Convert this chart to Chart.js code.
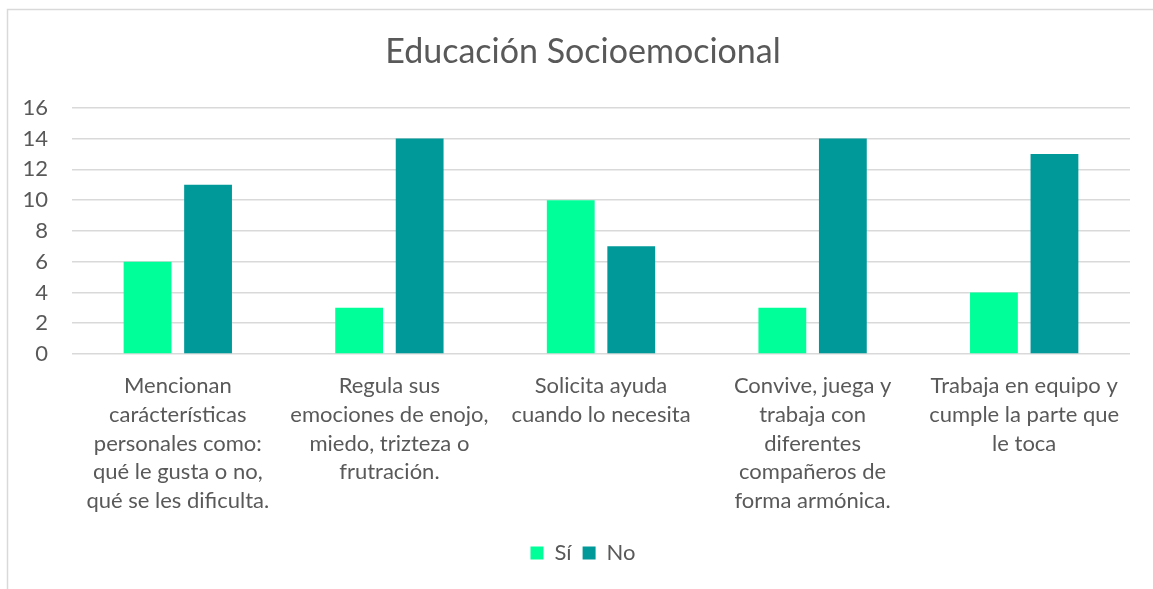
<!DOCTYPE html>
<html>
<head>
<meta charset="utf-8">
<script src="https://cdn.jsdelivr.net/npm/chart.js@4.4.1/dist/chart.umd.min.js"></script>
<style>
html,body{margin:0;padding:0;background:#fff;}
#wrap{position:absolute;left:0;top:0;width:1153px;height:589px;}
</style>
</head>
<body>
<div id="wrap"><canvas id="c" width="1153" height="589"></canvas></div>
<script>
const categories = [
  ["Mencionan", "carácterísticas", "personales como:", "qué le gusta o no,", "qué se les dificulta."],
  ["Regula sus", "emociones de enojo,", "miedo, trizteza o", "frutración."],
  ["Solicita ayuda", "cuando lo necesita"],
  ["Convive, juega y", "trabaja con", "diferentes", "compañeros de", "forma armónica."],
  ["Trabaja en equipo y", "cumple la parte que", "le toca"]
];
const siValues = [6, 3, 10, 3, 4];
const noValues = [11, 14, 7, 14, 13];
const seriesNames = ["Sí", "No"];
const titleText = "Educación Socioemocional";

const FONT = "Lato, 'Open Sans', sans-serif";
const TXT = "#595959";

const borderPlugin = {
  id: "outerBorder",
  beforeDraw(chart) {
    const ctx = chart.ctx;
    ctx.save();
    ctx.fillStyle = "#fff";
    ctx.fillRect(0, 0, chart.width, chart.height);
    ctx.strokeStyle = "#d9d9d9";
    ctx.lineWidth = 1.5;
    ctx.strokeRect(7.5, 9.5, 2000, 2000);
    ctx.restore();
  }
};

new Chart(document.getElementById("c"), {
  type: "bar",
  data: {
    labels: categories,
    datasets: [
      { label: seriesNames[0], data: siValues, backgroundColor: "#00FF99", barPercentage: 0.79, categoryPercentage: 0.572 },
      { label: seriesNames[1], data: noValues, backgroundColor: "#009999", barPercentage: 0.79, categoryPercentage: 0.572 }
    ]
  },
  options: {
    responsive: false,
    animation: false,
    devicePixelRatio: 1,
    layout: { padding: { left: 20, right: 7, top: 10, bottom: 15 } },
    plugins: {
      title: {
        display: true,
        text: titleText,
        color: TXT,
        font: { family: FONT, size: 34, weight: "normal" },
        padding: { top: 22, bottom: 35 }
      },
      legend: {
        position: "bottom",
        labels: {
          color: TXT,
          font: { family: FONT, size: 22 },
          boxWidth: 13,
          boxHeight: 13,
          padding: 11
        }
      },
      tooltip: { enabled: false }
    },
    scales: {
      x: {
        grid: { display: false, drawTicks: false },
        border: { display: false },
        ticks: {
          color: TXT,
          font: { family: FONT, size: 22, lineHeight: 1.3 },
          padding: 18,
          maxRotation: 0,
          autoSkip: false
        },
        afterFit(scale) { scale.height = 177; }
      },
      y: {
        min: 0,
        max: 16,
        grid: { color: "#d9d9d9", lineWidth: 1.5, drawTicks: false },
        border: { display: false },
        ticks: {
          stepSize: 2,
          color: TXT,
          font: { family: FONT, size: 22 },
          padding: 24
        },
        afterFit(scale) { scale.width = 52; }
      },
      yRight: {
        type: "linear",
        position: "right",
        min: 0,
        max: 16,
        grid: { display: false, drawTicks: false },
        border: { display: false },
        ticks: { display: false },
        afterFit(scale) { scale.width = 16; }
      }
    }
  },
  plugins: [borderPlugin]
});
</script>
</body>
</html>
